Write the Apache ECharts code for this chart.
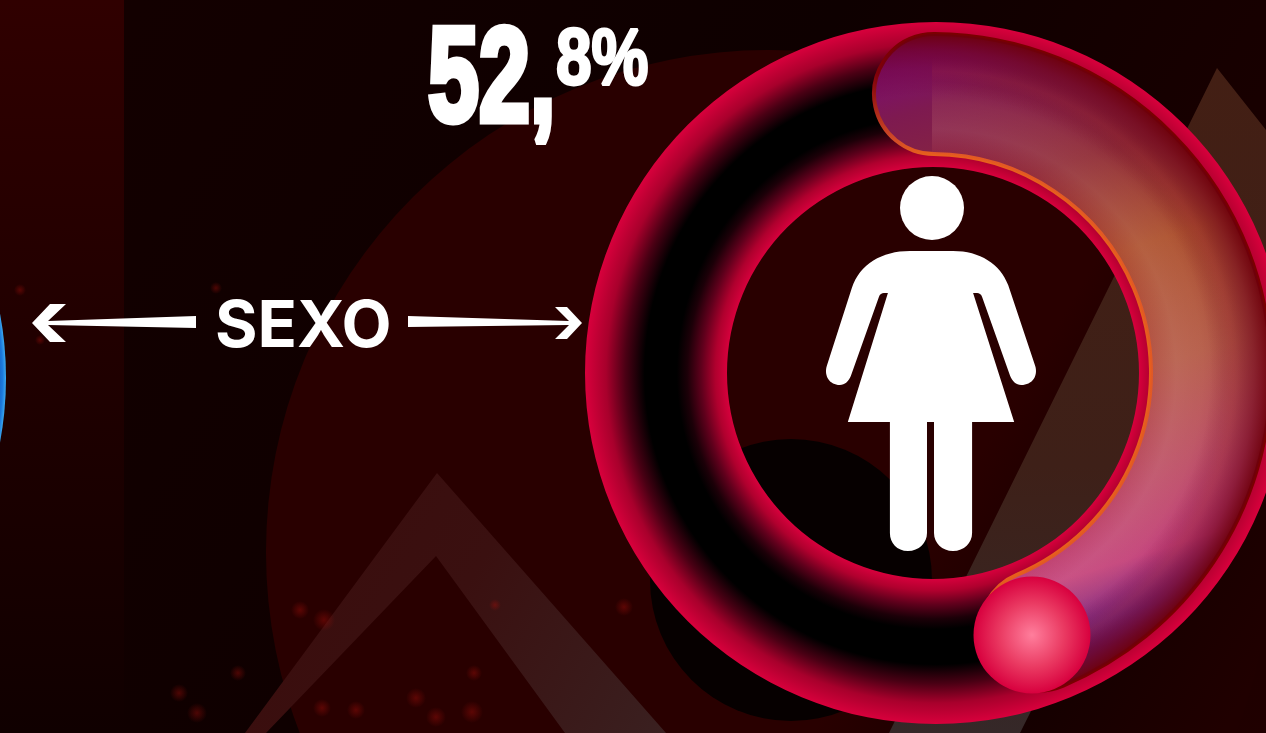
<!DOCTYPE html>
<html>
<head>
<meta charset="utf-8">
<title>Sexo</title>
<script src="https://cdn.jsdelivr.net/npm/echarts@6/dist/echarts.min.js"></script>
<style>
html, body { margin: 0; padding: 0; background: #120000; overflow: hidden; }
#main { width: 1266px; height: 733px; }
</style>
</head>
<body>
<div id="main"></div>
<script>
// datos del grafico
var categories = ['Mujeres', 'Resto'];
var shareValues = [52.8, 47.2];
var titleLabel = 'SEXO';

var bigLabel = String(Math.floor(shareValues[0])) + ',';
var smallLabel = String(shareValues[0]).split('.')[1] + '%';

var cx = 932, cy = 373;
var outerCx = 936;

var myChart = echarts.init(document.getElementById('main'), null, { renderer: 'canvas' });

function radial(x, r, stops) {
    return { type: 'radial', x: x, y: cy, r: r, global: true, colorStops: stops };
}

// resplandores rojos del fondo
var sparks = [[300,610,9],[324,620,11],[624,607,9],[238,673,8],[179,693,9],[197,713,10],[322,708,9],[356,710,9],
    [416,698,10],[436,717,10],[472,712,11],[474,673,8],[495,605,6],[20,290,6],[216,288,6],[40,340,5]];

var background = [
    { type: 'rect', z: -20, shape: { x: 0, y: 0, width: 1266, height: 733 },
      style: { fill: { type: 'linear', x: 0, y: 0, x2: 1, y2: 1, colorStops: [
          { offset: 0, color: '#140000' }, { offset: 0.5, color: '#0e0000' }, { offset: 1, color: '#200000' }] } } },
    { type: 'rect', z: -19, shape: { x: 0, y: 0, width: 124, height: 733 },
      style: { fill: { type: 'linear', x: 0, y: 0, x2: 0, y2: 1, colorStops: [
          { offset: 0, color: '#300000' }, { offset: 0.55, color: '#1e0000' }, { offset: 1, color: '#100000' }] } } },
    { type: 'circle', z: -18, shape: { cx: 768, cy: 552, r: 502 },
      style: { fill: { type: 'linear', x: 0, y: 0, x2: 1, y2: 0.6, colorStops: [
          { offset: 0, color: '#290000' }, { offset: 0.7, color: '#290000' }, { offset: 0.85, color: '#150000' }, { offset: 1, color: '#200000' }] } } },
    { type: 'circle', z: -16, shape: { cx: 791, cy: 580, r: 141 }, style: { fill: '#060000' } },
    { type: 'polygon', z: -15, shape: { points: [[437,473],[666,733],[565,733],[436,556],[266,733],[245,733]] },
      style: { fill: { type: 'linear', x: 0, y: 0, x2: 1, y2: 1, colorStops: [
          { offset: 0, color: '#3a0c0c' }, { offset: 0.5, color: '#3a1010' }, { offset: 1, color: '#3a2020' }] } } },
    { type: 'polygon', z: -15, shape: { points: [[1217,68],[1270,135],[1270,300],[1217,340],[1020,733],[889,733]] },
      style: { fill: { type: 'linear', x: 0, y: 0, x2: 0, y2: 1, colorStops: [
          { offset: 0, color: '#431f14' }, { offset: 0.6, color: '#3e2018' }, { offset: 1, color: '#352828' }] } } },
    { type: 'circle', z: -14, shape: { cx: -344, cy: 378, r: 350 },
      style: { fill: { type: 'radial', x: 0.5, y: 0.5, r: 0.5, colorStops: [
          { offset: 0.97, color: '#1257b8' }, { offset: 0.99, color: '#1c78dc' }, { offset: 1, color: '#3aa8f0' }] } } }
];

sparks.forEach(function (s) {
    background.push({ type: 'circle', z: -13, shape: { cx: s[0], cy: s[1], r: s[2] },
        style: { fill: { type: 'radial', x: 0.5, y: 0.5, r: 0.5, colorStops: [
            { offset: 0, color: 'rgba(170,15,10,0.4)' }, { offset: 1, color: 'rgba(170,15,10,0)' }] } } });
});

var womanPath = 'M910 251 L953 251 C980 251 1000 264 1008 285 L1035 366 C1038 376 1032 385 1021 385 C1016 385 1012 381 1010 376 '
    + 'L982 297 C981 294 979 293 977 293 L973 293 L1014 422 L972 422 L972 533 C972 543 964 551 953 551 C942 551 934 543 934 533 L934 422 L927 422 '
    + 'L927 533 C927 543 919 551 908 551 C897 551 890 543 890 533 L890 422 L848 422 L888 293 L884 293 C882 293 880 294 879 297 '
    + 'L851 376 C849 381 845 385 840 385 C830 385 824 376 827 366 L852 288 C860 264 882 251 910 251 Z';

var arrows = [
    { type: 'polygon', z: 50, shape: { points: [[32,323],[50,304],[66,304],[48,321],[196,316],[196,328],[48,325],[66,342],[50,342]] }, style: { fill: '#fff' } },
    { type: 'polygon', z: 50, shape: { points: [[408,316],[569,321],[555,307],[567,307],[582,323],[567,339],[555,339],[569,325],[408,327]] }, style: { fill: '#fff' } }
];

var texts = [
    { type: 'text', z: 50, x: 428, y: 17, scaleX: 0.685, scaleY: 1, style: { text: bigLabel, x: 0, y: 0, fill: '#fff',
        font: 'bold 134px "Liberation Sans"', stroke: '#fff', lineWidth: 7, textVerticalAlign: 'top' } },
    { type: 'text', z: 50, x: 556, y: 22, scaleX: 0.8, scaleY: 1, style: { text: smallLabel, x: 0, y: 0, fill: '#fff',
        font: 'bold 80px "Liberation Sans"', stroke: '#fff', lineWidth: 3, textVerticalAlign: 'top' } },
    { type: 'text', z: 50, x: 215, y: 295, style: { text: titleLabel, x: 0, y: 0, fill: '#fff',
        font: '700 65px Inter, "Open Sans"', textVerticalAlign: 'top' } }
];

var ball = [
    { type: 'circle', z: 40, shape: { cx: 932, cy: 208, r: 32 }, style: { fill: '#fff' } },
    { type: 'circle', z: 40, shape: { cx: 1032, cy: 635, r: 58.5 },
      style: { fill: { type: 'radial', x: 0.5, y: 0.5, r: 0.5, colorStops: [
          { offset: 0, color: '#ff7e9c' }, { offset: 0.55, color: '#ea3a62' }, { offset: 1, color: '#d8003e' }] } } }
];

function arcSeries(start, sweep, color, borderColor, borderWidth, corner) {
    return {
        type: 'pie', silent: true, animation: false, center: [cx, cy], radius: [219, 339], z: 4,
        startAngle: start, endAngle: start - sweep, clockwise: true,
        label: { show: false }, labelLine: { show: false },
        data: [
            { name: categories[0], value: shareValues[0],
              itemStyle: { color: color, borderColor: borderColor, borderWidth: borderWidth, borderRadius: corner } },
            { name: categories[1], value: shareValues[1],
              itemStyle: { color: 'rgba(0,0,0,0)', borderWidth: 0 } }
        ]
    };
}

var ringStopsInner = [
    { offset: 0.587, color: '#d6003c' }, { offset: 0.62, color: '#b0002e' }, { offset: 0.66, color: '#60001c' },
    { offset: 0.7, color: '#1c0008' }, { offset: 0.73, color: '#000' }, { offset: 1, color: '#000' }];
var ringStopsOuter = [
    { offset: 0, color: '#000' }, { offset: 0.83, color: '#000' }, { offset: 0.885, color: '#4a0014' },
    { offset: 0.94, color: '#a8002c' }, { offset: 1, color: '#d8003c' }];

var option = {
    backgroundColor: '#120000',
    graphic: { elements: background.concat(ball, arrows, texts) },
    series: [
        // anillo de fondo, dos bandas que se solapan en la zona negra
        {
            type: 'pie', silent: true, animation: false, center: [outerCx, cy], radius: [268, 351], z: 3,
            label: { show: false }, labelLine: { show: false },
            data: [{ name: 'Total', value: shareValues[0] + shareValues[1], itemStyle: { color: radial(outerCx, 351, ringStopsOuter) } }]
        },
        {
            type: 'pie', silent: true, animation: false, center: [cx + 1, cy], radius: [206, 280], z: 3,
            label: { show: false }, labelLine: { show: false },
            data: [{ name: 'Total', value: shareValues[0] + shareValues[1], itemStyle: { color: radial(cx + 1, 351, ringStopsInner) } }]
        },
        arcSeries(102, 344, { type: 'linear', x: 870, y: 60, x2: 1060, y2: 660, global: true, colorStops: [
            { offset: 0, color: '#7c0a78' }, { offset: 0.1, color: '#7e1a50' }, { offset: 0.25, color: '#8a2a3a' },
            { offset: 0.41, color: '#a85030' }, { offset: 0.6, color: '#b05a4a' }, { offset: 0.75, color: '#b84e68' },
            { offset: 0.88, color: '#c04080' }, { offset: 0.96, color: '#7a2a88' }, { offset: 1, color: '#6a1a70' }] },
            radial(cx, 339, [{ offset: 0.64, color: '#e8601c' }, { offset: 0.7, color: '#d04a28' }, { offset: 0.9, color: '#800008' }, { offset: 1, color: '#7a0000' }]), 4, 60),
        // brillo central, empieza en las 12 como en el original
        arcSeries(90, 293, radial(cx, 339, [
            { offset: 0.64, color: 'rgba(200,50,60,0.14)' }, { offset: 0.72, color: 'rgba(255,190,160,0.14)' },
            { offset: 0.8, color: 'rgba(255,170,120,0.1)' }, { offset: 0.86, color: 'rgba(200,70,50,0.06)' },
            { offset: 0.89, color: 'rgba(225,90,70,0.12)' }, { offset: 0.93, color: 'rgba(200,70,50,0)' }, { offset: 1, color: 'rgba(200,70,50,0)' }]), 'rgba(0,0,0,0)', 0, 0),
        // oscurece el borde exterior en toda la banda
        arcSeries(102, 344, radial(cx, 339, [
            { offset: 0, color: 'rgba(110,0,20,0)' }, { offset: 0.82, color: 'rgba(110,0,20,0)' }, { offset: 0.9, color: 'rgba(110,0,20,0.3)' },
            { offset: 0.95, color: 'rgba(110,0,20,0.6)' }, { offset: 1, color: 'rgba(110,0,10,0.95)' }]), 'rgba(0,0,0,0)', 0, 60),
        // silueta
        {
            type: 'custom', silent: true, animation: false, coordinateSystem: 'none', z: 30,
            data: [shareValues[0]],
            renderItem: function () {
                return { type: 'path', shape: { pathData: womanPath, x: 826, y: 251, width: 210, height: 300, layout: 'cover' },
                    style: { fill: '#fff' } };
            }
        }
    ]
};

myChart.setOption(option);
</script>
</body>
</html>
